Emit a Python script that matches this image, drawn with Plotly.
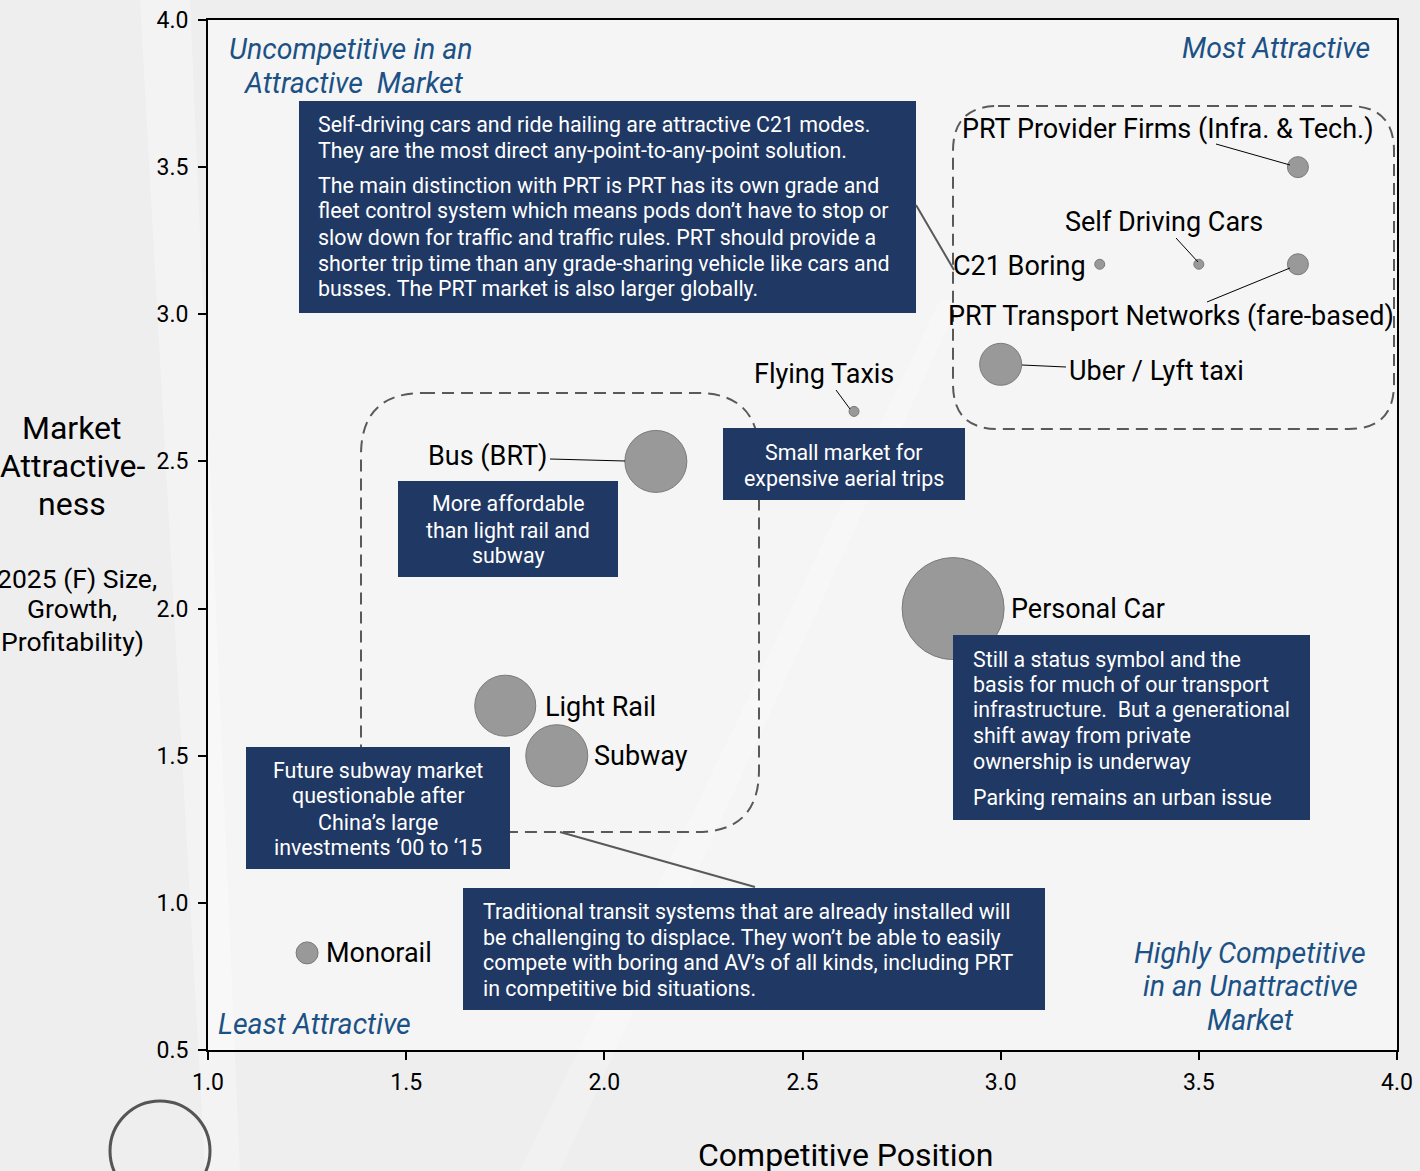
"""
Competitive position vs market attractiveness of transport modes
Bubble chart with annotation boxes and dashed groupings
"""

import plotly.graph_objects as go

# Data
modes = ['PRT Provider Firms (Infra. & Tech.)', 'PRT Transport Networks (fare-based)',
         'Self Driving Cars', 'C21 Boring', 'Uber / Lyft taxi', 'Flying Taxis',
         'Bus (BRT)', 'Personal Car', 'Light Rail', 'Subway', 'Monorail']
competitive_position = [3.75, 3.75, 3.50, 3.25, 3.00, 2.63, 2.13, 2.88, 1.75, 1.88, 1.25]
market_attractiveness = [3.50, 3.17, 3.17, 3.17, 2.83, 2.67, 2.50, 2.00, 1.67, 1.50, 0.83]
market_size = [2.1, 2.1, 1.0, 1.0, 4.2, 1.0, 6.2, 10.2, 6.1, 6.2, 2.2]

x_ticks = [1.0, 1.5, 2.0, 2.5, 3.0, 3.5, 4.0]
y_ticks = [0.5, 1.0, 1.5, 2.0, 2.5, 3.0, 3.5, 4.0]

# Plot area in pixels (used to place the decorations)
L, R, T, B = 208, 1397, 20, 1050
W, H = 1420, 1171

NAVY = '#203864'
BLUE = '#1b5185'
GREY = '#595959'
FONT = 'Roboto'


def fx(p):
    return (p - L) / (R - L)


def fy(p):
    return (B - p) / (B - T)


def rounded_path(x0, y0, x1, y1, r):
    # rounded rectangle in paper coords, corners drawn with quadratic curves
    pts = [
        ('M', x0 + r, y0), ('L', x1 - r, y0), ('Q', x1, y0, x1, y0 + r),
        ('L', x1, y1 - r), ('Q', x1, y1, x1 - r, y1),
        ('L', x0 + r, y1), ('Q', x0, y1, x0, y1 - r),
        ('L', x0, y0 + r), ('Q', x0, y0, x0 + r, y0),
    ]
    out = []
    for p in pts:
        if p[0] == 'Q':
            out.append(f"Q{fx(p[1]):.5f},{fy(p[2]):.5f} {fx(p[3]):.5f},{fy(p[4]):.5f}")
        else:
            out.append(f"{p[0]}{fx(p[1]):.5f},{fy(p[2]):.5f}")
    return ' '.join(out) + ' Z'


fig = go.Figure()

fig.add_trace(go.Scatter(
    x=competitive_position,
    y=market_attractiveness,
    mode='markers',
    text=modes,
    marker=dict(size=market_size, sizemode='diameter', sizeref=0.1,
                color='#999999', opacity=1, line=dict(color='#7a7a7a', width=1)),
    hovertemplate='<b>%{text}</b><br>%{x}, %{y}<extra></extra>',
    cliponaxis=False,
    showlegend=False
))

shapes = []

# faint background streaks
shapes.append(dict(type='path', xref='paper', yref='paper', layer='below',
                   path=f"M{fx(140):.4f},{fy(0):.4f} L{fx(190):.4f},{fy(0):.4f} "
                        f"L{fx(240):.4f},{fy(1171):.4f} L{fx(205):.4f},{fy(1171):.4f} Z",
                   fillcolor='rgba(255,255,255,0.3)', line=dict(width=0)))
shapes.append(dict(type='path', xref='paper', yref='paper', layer='below',
                   path=f"M{fx(520):.4f},{fy(1171):.4f} L{fx(560):.4f},{fy(1171):.4f} "
                        f"L{fx(960):.4f},{fy(300):.4f} L{fx(940):.4f},{fy(300):.4f} Z",
                   fillcolor='rgba(255,255,255,0.22)', line=dict(width=0)))

# dashed groupings
shapes.append(dict(type='path', xref='paper', yref='paper', layer='above',
                   path=rounded_path(953, 106, 1394, 429, 45),
                   line=dict(color=GREY, width=2, dash='12px,7px')))
shapes.append(dict(type='path', xref='paper', yref='paper', layer='above',
                   path=rounded_path(361, 393, 759, 832, 62),
                   line=dict(color=GREY, width=2, dash='12px,7px')))

# navy comment boxes
boxes = [(299, 101, 916, 313), (398, 481, 618, 577), (723, 428, 965, 500),
         (953, 635, 1310, 820), (246, 747, 510, 869), (463, 888, 1045, 1010)]
for x0, y0, x1, y1 in boxes:
    shapes.append(dict(type='rect', xref='paper', yref='paper', layer='above',
                       x0=fx(x0), x1=fx(x1), y0=fy(y0), y1=fy(y1),
                       fillcolor=NAVY, line=dict(width=0)))

# leader lines (thick grey from boxes, thin black from labels)
thick = [((916, 205), (954, 270)), ((560, 832), (755, 887))]
thin = [((1216, 144), (1290, 165)), ((1176, 238), (1198, 262)),
        ((1207, 302), (1290, 268)), ((1022, 365), (1066, 367)),
        ((836, 390), (850, 409)), ((550, 459), (625, 461))]
for (a, b) in thick:
    shapes.append(dict(type='line', xref='paper', yref='paper', layer='above',
                       x0=fx(a[0]), y0=fy(a[1]), x1=fx(b[0]), y1=fy(b[1]),
                       line=dict(color=GREY, width=2)))
for (a, b) in thin:
    shapes.append(dict(type='line', xref='paper', yref='paper', layer='above',
                       x0=fx(a[0]), y0=fy(a[1]), x1=fx(b[0]), y1=fy(b[1]),
                       line=dict(color='black', width=1)))

# size reference circle below the axis
shapes.append(dict(type='circle', xref='paper', yref='paper', layer='above',
                   x0=fx(110), x1=fx(210), y0=fy(1101), y1=fy(1201),
                   line=dict(color='#555555', width=3)))

annotations = []


def note(text, x, y, size, color='black', xanchor='left', italic=False):
    annotations.append(dict(
        text=f"<i>{text}</i>" if italic else text,
        xref='paper', yref='paper', x=fx(x), y=fy(y),
        xanchor=xanchor, yanchor='middle', align=xanchor, showarrow=False,
        font=dict(family=FONT, size=size, color=color)
    ))


def note_lines(lines, x, ys, size, color='black', xanchor='left', italic=False):
    for txt, yy in zip(lines, ys):
        note(txt, x, yy, size, color, xanchor, italic)


# point labels
LBL = 27
note('PRT Provider Firms (Infra. &amp; Tech.)', 960, 129, LBL)
note('Self Driving Cars', 1063, 222, LBL)
note('C21 Boring', 951, 266, LBL)
note('PRT Transport Networks (fare-based)', 946, 316, LBL)
note('Uber / Lyft taxi', 1067, 371, LBL)
note('Flying Taxis', 752, 374, LBL)
note('Bus (BRT)', 426, 456, LBL)
note('Personal Car', 1009, 609, LBL)
note('Light Rail', 543, 707, LBL)
note('Subway', 592, 756, LBL)
note('Monorail', 324, 953, LBL)

# quadrant labels
QD = 28.5
note_lines(['Uncompetitive in an', ' Attractive  Market'], 351, [49, 83], QD, BLUE, 'center', True)
note('Most Attractive', 1276, 48, QD, BLUE, 'center', True)
note_lines(['Highly Competitive', 'in an Unattractive', 'Market'], 1250, [953, 986, 1020],
           QD, BLUE, 'center', True)
note('Least Attractive', 216, 1024, QD, BLUE, italic=True)

# box texts
WHITE = 'white'
BX = 21.4
note_lines(['Self-driving cars and ride hailing are attractive C21 modes.',
            'They are the most direct any-point-to-any-point solution.'],
           316, [124, 150], BX, WHITE)
note_lines(['The main distinction with PRT is PRT has its own grade and',
            'fleet control system which means pods don’t have to stop or',
            'slow down for traffic and traffic rules. PRT should provide a',
            'shorter trip time than any grade-sharing vehicle like cars and',
            'busses. The PRT market is also larger globally.'],
           316, [186, 211, 237, 263, 288], BX, WHITE)
note_lines(['More affordable', 'than light rail and', 'subway'],
           508, [504, 530, 555], BX, WHITE, 'center')
note_lines(['Small market for', 'expensive aerial trips'],
           844, [452, 478], BX, WHITE, 'center')
note_lines(['Still a status symbol and the', 'basis for much of our transport',
            'infrastructure.  But a generational', 'shift away from private',
            'ownership is underway', 'Parking remains an urban issue'],
           971, [659, 684, 710, 735, 761, 797], BX, WHITE)
note_lines(['Future subway market', 'questionable after', 'China’s large',
            'investments ‘00 to ‘15'],
           378, [771, 796, 822, 847], BX, WHITE, 'center')
note_lines(['Traditional transit systems that are already installed will',
            'be challenging to displace. They won’t be able to easily',
            'compete with boring and AV’s of all kinds, including PRT',
            'in competitive bid situations.'],
           481, [911, 937, 962, 988], BX, WHITE)

# axis titles
note('Competitive Position', 845, 1155, 32, xanchor='center')
note_lines(['Market', 'Attractive-', 'ness'], 72, [428, 466, 504], 32, xanchor='center')
note_lines(['(2025 (F) Size,', 'Growth,', 'Profitability)'], 72, [578, 609, 641], 26.5,
           xanchor='center')

axis_common = dict(
    showline=True, linecolor='black', linewidth=2, mirror=True,
    ticks='outside', ticklen=8, tickwidth=2, tickcolor='black',
    showgrid=False, zeroline=False, tickformat='.1f', automargin=False,
    tickfont=dict(family=FONT, size=23, color='black'),
)

fig.update_xaxes(range=[1.0, 4.0], tickvals=x_ticks, ticklabelstandoff=2, **axis_common)
fig.update_yaxes(range=[0.5, 4.0], tickvals=y_ticks, ticklabelstandoff=5, **axis_common)

fig.update_layout(
    width=W, height=H,
    margin=dict(l=L, r=W - R, t=T, b=H - B, autoexpand=False),
    paper_bgcolor='#eeeeee',
    plot_bgcolor='#f5f5f5',
    font=dict(family=FONT, color='black'),
    shapes=shapes,
    annotations=annotations,
    showlegend=False
)

fig.write_html("out.html", config={'displayModeBar': False},
               post_script="document.body.style.margin='0px';")
